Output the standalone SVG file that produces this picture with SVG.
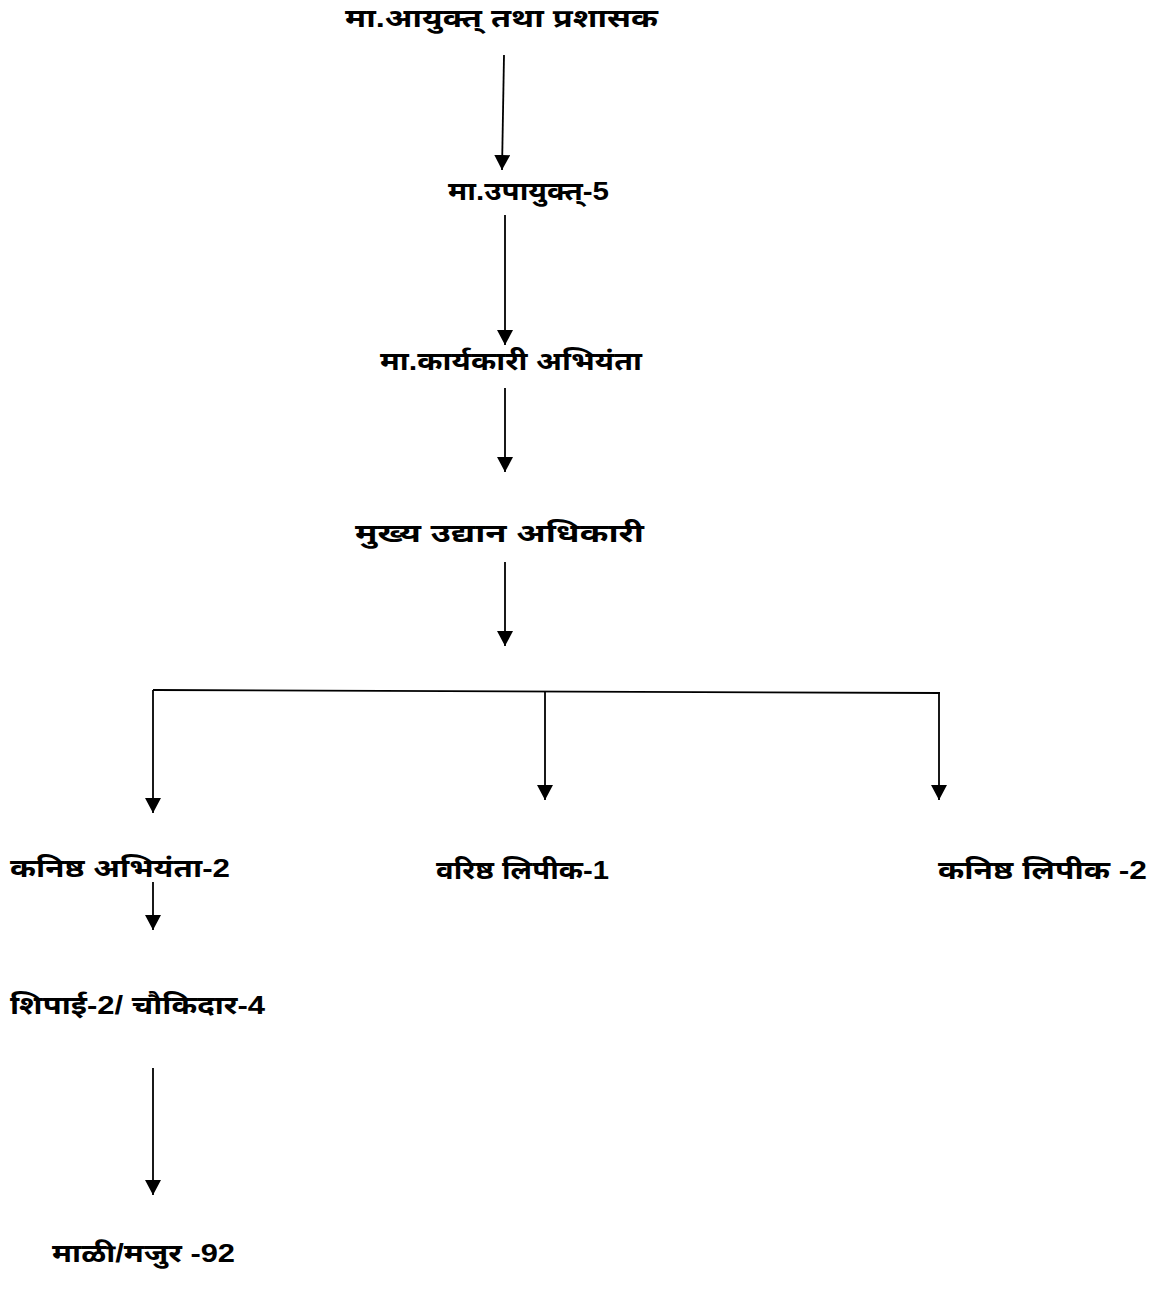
<svg xmlns="http://www.w3.org/2000/svg" width="1161" height="1308" viewBox="0 0 1161 1308">
<style>
text{font-family:"Liberation Sans","Noto Sans",sans-serif;font-weight:bold;font-size:25px;fill:#000}
.c line,.c polyline{stroke:#000;stroke-width:1.8;fill:none}
</style>
<defs>
<marker id="ah" markerWidth="16" markerHeight="16" viewBox="0 0 16 16" refX="15" refY="8" orient="auto" markerUnits="userSpaceOnUse">
<path d="M0,0 L15,8 L0,16 Z" fill="#000"/>
</marker>
</defs>
<rect width="1161" height="1308" fill="#fff"/>
<g class="c" id="connectors">
<line x1="504" y1="55" x2="502" y2="170" marker-end="url(#ah)"/>
<line x1="505" y1="215" x2="505" y2="345" marker-end="url(#ah)"/>
<line x1="505" y1="388" x2="505" y2="472" marker-end="url(#ah)"/>
<line x1="505" y1="562" x2="505" y2="646" marker-end="url(#ah)"/>
<polyline points="153,690 940,693"/>
<line x1="153" y1="690" x2="153" y2="813" marker-end="url(#ah)"/>
<line x1="545" y1="691" x2="545" y2="800" marker-end="url(#ah)"/>
<line x1="939" y1="693" x2="939" y2="800" marker-end="url(#ah)"/>
<line x1="153" y1="882" x2="153" y2="930" marker-end="url(#ah)"/>
<line x1="153" y1="1068" x2="153" y2="1195" marker-end="url(#ah)"/>
</g>
<g id="n1"><text x="345" y="27" textLength="313" lengthAdjust="spacingAndGlyphs">मा.आयुक्त् तथा प्रशासक</text></g>
<g id="n2"><text x="448" y="200" textLength="161" lengthAdjust="spacingAndGlyphs">मा.उपायुक्त्-5</text></g>
<g id="n3"><text x="380" y="370" textLength="262" lengthAdjust="spacingAndGlyphs">मा.कार्यकारी अभियंता</text></g>
<g id="n4"><text x="355" y="542" textLength="289" lengthAdjust="spacingAndGlyphs">मुख्य उद्यान अधिकारी</text></g>
<g id="n5"><text x="10" y="877" textLength="220" lengthAdjust="spacingAndGlyphs">कनिष्ठ अभियंता-2</text></g>
<g id="n6"><text x="436" y="879" textLength="173" lengthAdjust="spacingAndGlyphs">वरिष्ठ लिपीक-1</text></g>
<g id="n7"><text x="938" y="879" textLength="209" lengthAdjust="spacingAndGlyphs">कनिष्ठ लिपीक -2</text></g>
<g id="n8"><text x="10" y="1014" textLength="255" lengthAdjust="spacingAndGlyphs">शिपाई-2/ चौकिदार-4</text></g>
<g id="n9"><text x="52" y="1262" textLength="183" lengthAdjust="spacingAndGlyphs">माळी/मजुर -92</text></g>
</svg>
